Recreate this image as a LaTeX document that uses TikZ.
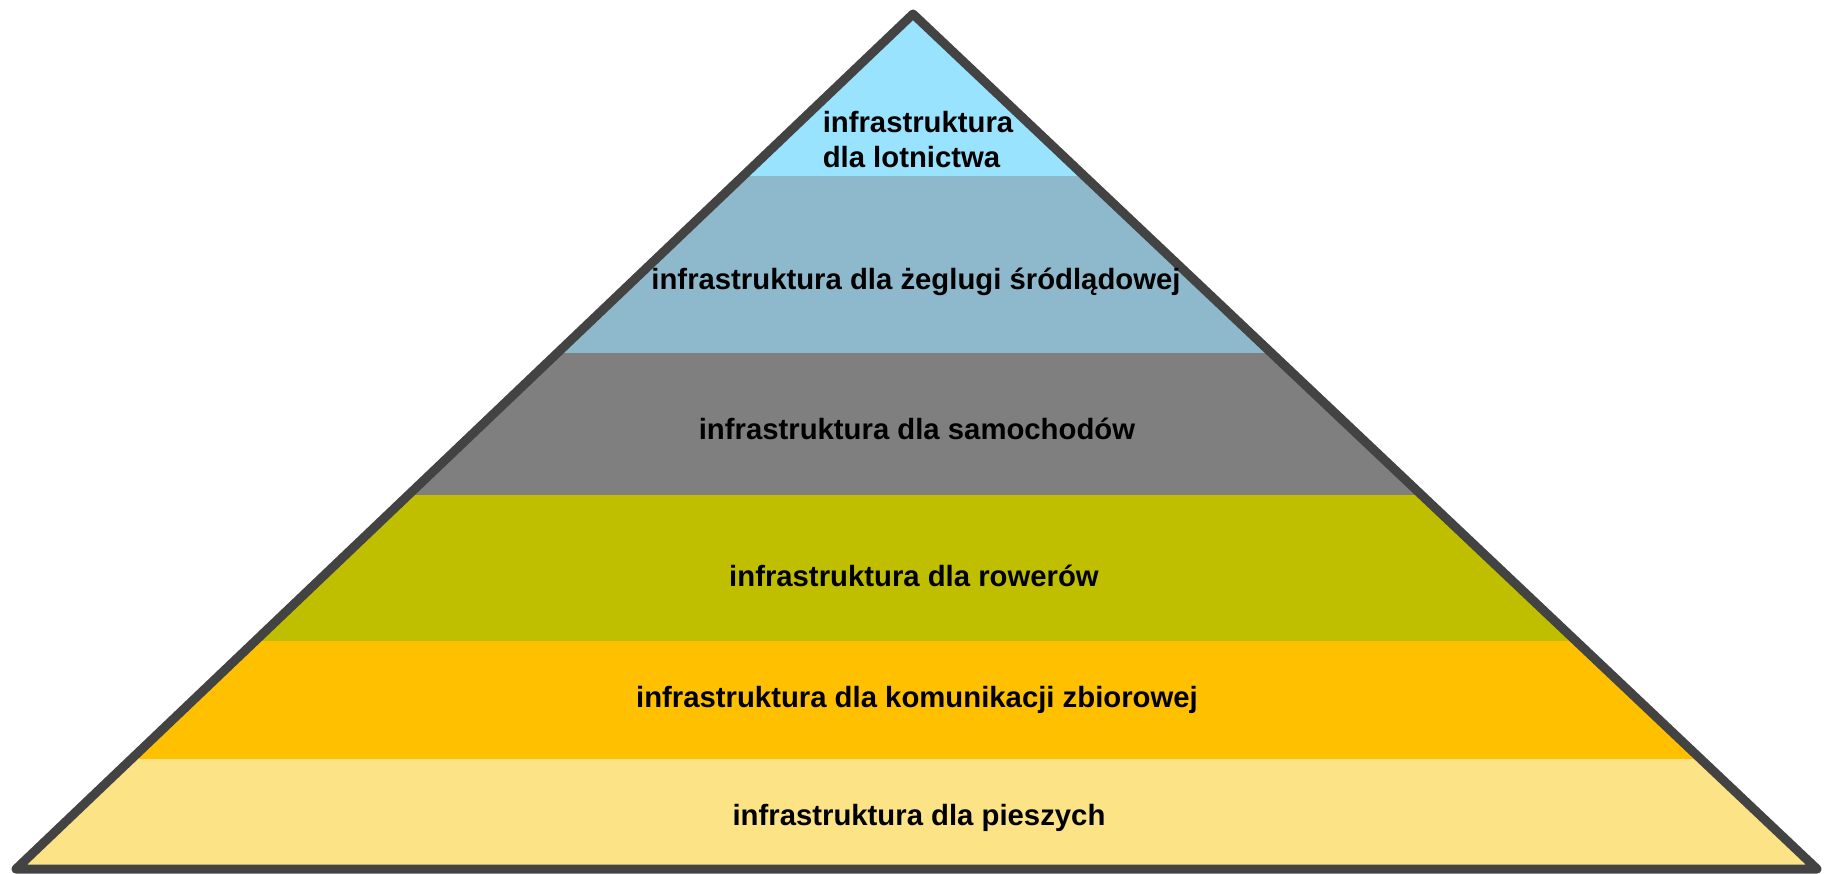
\documentclass[tikz,border=0pt]{standalone}
\usepackage{fontspec}
\setmainfont{Liberation Sans}
\usetikzlibrary{positioning}
\definecolor{air}{HTML}{99E3FF}
\definecolor{water}{HTML}{8EB8CB}
\definecolor{car}{HTML}{7F7F7F}
\definecolor{bike}{HTML}{BFBF00}
\definecolor{bus}{HTML}{FFC000}
\definecolor{walk}{HTML}{FCE386}
\definecolor{edge}{HTML}{434343}

\begin{document}
\begin{tikzpicture}[x=1pt,y=-1pt,
 lbl/.style={font=\bfseries\fontsize{29.3}{35}\selectfont,text=black,inner sep=0pt},
 outline/.style={draw=edge,line width=9pt,line join=round}]
\useasboundingbox (0,0) rectangle (1829,874);
\coordinate (top) at (913,14);
\coordinate (bl) at (16,869);
\coordinate (br) at (1817,869);
% bands
\begin{scope}
\clip (top) -- (bl) -- (br) -- cycle;
\foreach \c/\ya/\yb in {air/0/176,water/176/353,car/353/495,bike/495/641,bus/641/759,walk/759/874}
  \fill[\c] (0,\ya) rectangle (1829,\yb);
\end{scope}
\draw[outline] (top) -- (bl) -- (br) -- cycle;
% labels
\node[lbl,align=left] (lot) at (918,140) {infrastruktura\\dla lotnictwa};
\node[lbl] (zegl) at (916,282) {infrastruktura dla żeglugi śródlądowej};
\node[lbl] (sam) at (917,429) {infrastruktura dla samochodów};
\node[lbl] (row) at (914,576) {infrastruktura dla rowerów};
\node[lbl] (kom) at (917,700) {infrastruktura dla komunikacji zbiorowej};
\node[lbl] (pie) at (919,818) {infrastruktura dla pieszych};
\end{tikzpicture}
\end{document}
